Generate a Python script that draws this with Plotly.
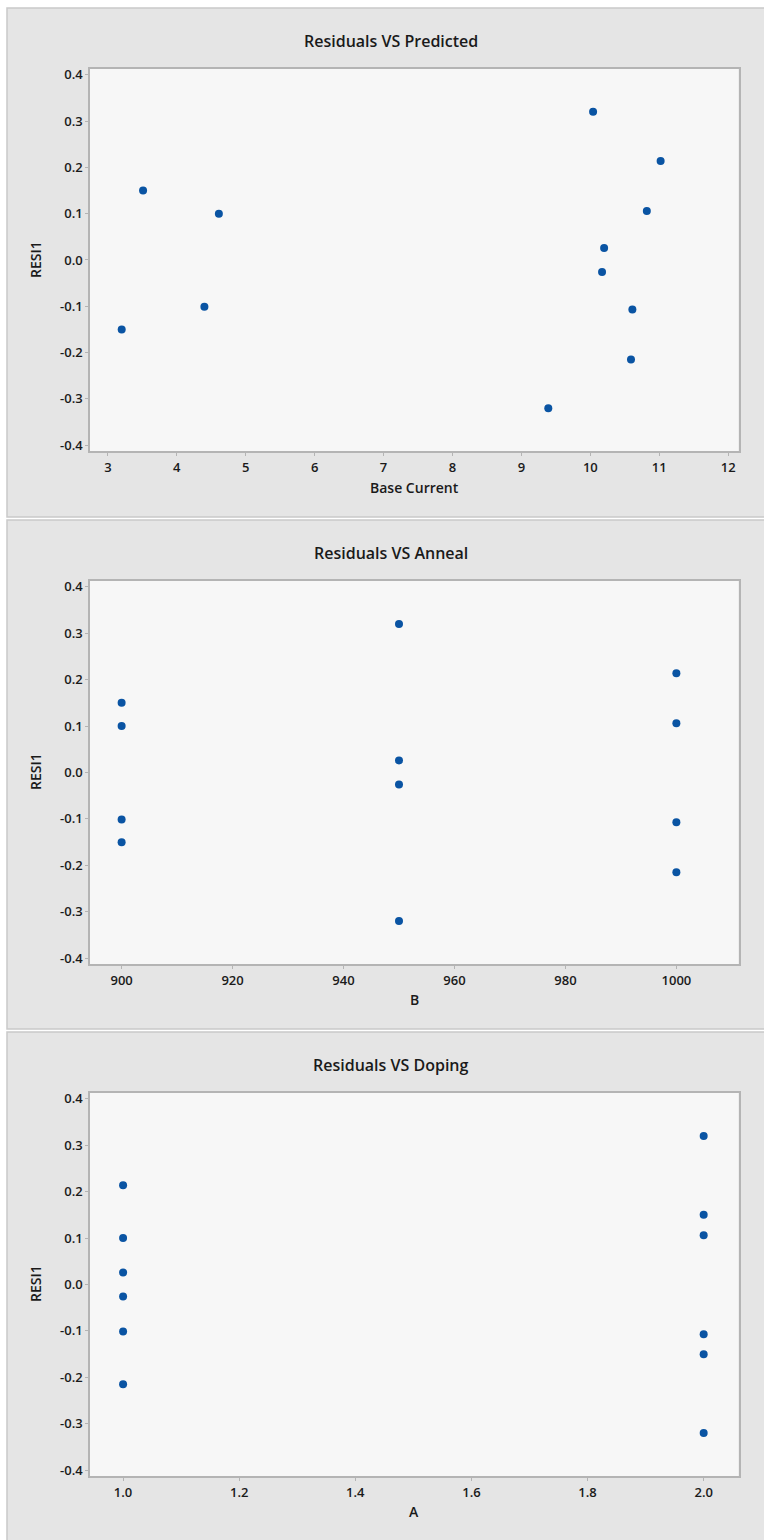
import plotly.graph_objects as go

# ---- data ----
predicted = [3.51, 4.61, 4.40, 3.20, 10.04, 11.02, 10.82, 10.20, 10.17, 10.61, 10.59, 9.39]
resid1 = [0.150, 0.100, -0.101, -0.150, 0.320, 0.214, 0.106, 0.026, -0.026, -0.107, -0.215, -0.320]
anneal_b = [900, 900, 900, 900, 950, 1000, 1000, 950, 950, 1000, 1000, 950]
doping_a = [2, 1, 1, 2, 2, 1, 2, 1, 1, 2, 1, 2]

titles = ["Residuals VS Predicted", "Residuals VS Anneal", "Residuals VS Doping"]
x_titles = ["Base Current", "B", "A"]
y_title = "RESI1"

y_ticks = [-0.4, -0.3, -0.2, -0.1, 0.0, 0.1, 0.2, 0.3, 0.4]
x1_ticks = [3, 4, 5, 6, 7, 8, 9, 10, 11, 12]
x2_ticks = [900, 920, 940, 960, 980, 1000]
x3_ticks = [1.0, 1.2, 1.4, 1.6, 1.8, 2.0]

W, H = 764, 1540
PANEL_STEP = 514
FONT = "Open Sans"
MARKER = "#0A54A3"
AXIS_GREY = "#b4b4b4"
TEXT = "#1a1a1a"
PLOT_L, PLOT_R = 90, 738.5


def fmt(v, d):
    return f"{v:.{d}f}"


fig = go.Figure()

xs = [predicted, anneal_b, doping_a]
xticks = [x1_ticks, x2_ticks, x3_ticks]
xdec = [0, 0, 1]
xranges = [[2.74, 12.15], [894.3, 1011.2], [0.943, 2.06]]

shapes = []
annotations = []
for i in range(3):
    off = PANEL_STEP * i
    top = 5 + off
    bot = 516 + off
    shapes.append(dict(type="rect", xref="paper", yref="paper", layer="below",
                       x0=7 / W, x1=1.01, y0=1 - bot / H, y1=1 - top / H,
                       fillcolor="#e5e5e5", line=dict(color="#c9c9c9", width=1.5)))
    ptop = 66 + off
    pbot = 450 + off if i == 0 else 450 + off + 1
    shapes.append(dict(type="rect", xref="paper", yref="paper", layer="below",
                       x0=PLOT_L / W, x1=PLOT_R / W, y0=1 - pbot / H, y1=1 - ptop / H,
                       fillcolor="#f7f7f7", line=dict(width=0)))
    ax = "" if i == 0 else str(i + 1)
    fig.add_trace(go.Scatter(
        x=xs[i], y=resid1, mode="markers",
        marker=dict(color=MARKER, size=8),
        xaxis="x" + ax, yaxis="y" + ax, showlegend=False,
        hoverinfo="x+y"))
    common = dict(showgrid=False, zeroline=False, showline=True, linecolor=AXIS_GREY,
                  linewidth=1.5, mirror=True, ticks="outside", ticklen=3, tickwidth=1,
                  tickcolor=AXIS_GREY,
                  tickfont=dict(family=FONT, size=13, color=TEXT, weight=600))
    fig.update_layout(**{
        "xaxis" + ax: dict(domain=[PLOT_L / W, PLOT_R / W], range=xranges[i],
                           tickvals=xticks[i], ticktext=[fmt(v, xdec[i]) for v in xticks[i]],
                           anchor="y" + ax, **common),
        "yaxis" + ax: dict(domain=[1 - pbot / H, 1 - ptop / H], range=[-0.413, 0.413],
                           tickvals=y_ticks, ticktext=[fmt(v, 1) for v in y_ticks],
                           anchor="x" + ax, **common),
    })
    annotations.append(dict(text=titles[i], xref="paper", yref="paper",
                            x=391 / W, y=1 - (38 + off) / H, showarrow=False,
                            xanchor="center", yanchor="middle",
                            font=dict(family=FONT, size=16, color=TEXT, weight=600)))
    annotations.append(dict(text=x_titles[i], xref="paper", yref="paper",
                            x=414 / W, y=1 - (486 + off) / H, showarrow=False,
                            xanchor="center", yanchor="middle",
                            font=dict(family=FONT, size=14, color=TEXT, weight=600)))
    annotations.append(dict(text=y_title, xref="paper", yref="paper",
                            x=36 / W, y=1 - (258 + off) / H, showarrow=False, textangle=-90,
                            xanchor="center", yanchor="middle",
                            font=dict(family=FONT, size=14, color=TEXT, weight=600)))

fig.update_layout(width=W, height=H, margin=dict(l=0, r=0, t=0, b=0),
                  paper_bgcolor="white", plot_bgcolor="rgba(0,0,0,0)",
                  shapes=shapes, annotations=annotations,
                  font=dict(family=FONT, color=TEXT))

fig.write_html("out.html", config={"displayModeBar": False},
               post_script="document.body.style.margin='0';document.body.style.padding='0';")
